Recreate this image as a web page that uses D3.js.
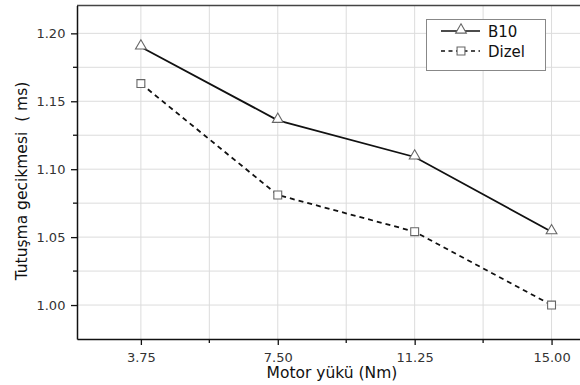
<!DOCTYPE html>
<html><head><meta charset="utf-8">
<script src="https://cdn.jsdelivr.net/npm/d3@7/dist/d3.min.js"></script>
<style>body{margin:0;background:#fff}svg{display:block}text{font-family:"DejaVu Sans",Arial,sans-serif}</style>
</head><body><svg id="c" width="580" height="385"></svg>
<script>
const loads = [3.75, 7.50, 11.25, 15.00];
const b10 = [1.190, 1.136, 1.109, 1.054];
const dizel = [1.163, 1.081, 1.054, 1.000];
const xTickLabels = ["3.75", "7.50", "11.25", "15.00"];
const yTicks = [1.00, 1.05, 1.10, 1.15, 1.20];
const seriesNames = ["B10", "Dizel"];

const svg = d3.select("#c");
const L = 77, T = 5.5, B = 339, R = 620;
const x = d3.scaleLinear().domain([2.0, 16.875]).range([L, R]);
const y = d3.scaleLinear().domain([0.975, 1.2205]).range([B, T]);

const xGridVals = [3.75, 5.625, 7.5, 9.375, 11.25, 13.125, 15.0];
const yGridVals = d3.range(0, 10).map(i => 1.0 + i * 0.025).filter(v => v <= 1.22);

const g = svg.append("g");
g.selectAll(".gx").data(xGridVals).join("line")
  .attr("x1", d => x(d)).attr("x2", d => x(d)).attr("y1", T).attr("y2", B)
  .attr("stroke", "#dcdcdc").attr("stroke-width", 1);
g.selectAll(".gy").data(yGridVals).join("line")
  .attr("x1", L).attr("x2", 580).attr("y1", d => y(d)).attr("y2", d => y(d))
  .attr("stroke", "#dcdcdc").attr("stroke-width", 1);

svg.append("line").attr("x1", L).attr("x2", 580).attr("y1", T).attr("y2", T)
  .attr("stroke", "#444").attr("stroke-width", 1.5);

const xAxis = d3.axisBottom(x).tickValues(loads).tickFormat((d, i) => xTickLabels[i]).tickSize(6).tickSizeOuter(0);
const xa = svg.append("g").attr("transform", `translate(0,${B})`).call(xAxis);
xa.select(".domain").attr("stroke", "#111").attr("stroke-width", 1.5);
xa.selectAll(".tick line").attr("stroke", "#111").attr("stroke-width", 1.3);
xa.selectAll("text").attr("font-size", 13).attr("fill", "#333").attr("font-family", "DejaVu Sans").attr("dy", "1.05em");
const xMinorVals = [5.625, 9.375, 13.125];
xa.selectAll(".mx").data(xMinorVals).join("line").attr("x1", d => x(d)).attr("x2", d => x(d))
  .attr("y1", 0).attr("y2", 4).attr("stroke", "#111").attr("stroke-width", 1.3);

const yAxis = d3.axisLeft(y).tickValues(yTicks).tickFormat(d3.format(".2f")).tickSize(6).tickSizeOuter(0);
const ya = svg.append("g").attr("transform", `translate(${L},0)`).call(yAxis);
ya.select(".domain").attr("stroke", "#111").attr("stroke-width", 1.5);
ya.selectAll(".tick line").attr("stroke", "#111").attr("stroke-width", 1.3);
ya.selectAll("text").attr("font-size", 13).attr("fill", "#333").attr("font-family", "DejaVu Sans").attr("dx", "-0.2em");
const yMinorVals = [1.025, 1.075, 1.125, 1.175];
ya.selectAll(".my").data(yMinorVals).join("line").attr("x1", 0).attr("x2", -4)
  .attr("y1", d => y(d)).attr("y2", d => y(d)).attr("stroke", "#111").attr("stroke-width", 1.3);

const line = d3.line().x((d, i) => x(loads[i])).y(d => y(d));
svg.append("path").datum(b10).attr("d", line).attr("fill", "none").attr("stroke", "#111").attr("stroke-width", 1.8);
svg.append("path").datum(dizel).attr("d", line).attr("fill", "none").attr("stroke", "#111").attr("stroke-width", 1.8).attr("stroke-dasharray", "5,4");

const tri = d3.symbol().type(d3.symbolTriangle).size(50);
const sq = d3.symbol().type(d3.symbolSquare).size(62);
svg.selectAll(".tri").data(b10).join("path").attr("d", tri)
  .attr("transform", (d, i) => `translate(${x(loads[i])},${y(d) - 1})`)
  .attr("fill", "#fff").attr("stroke", "#666").attr("stroke-width", 1.1);
svg.selectAll(".sq").data(dizel).join("path").attr("d", sq)
  .attr("transform", (d, i) => `translate(${x(loads[i])},${y(d)})`)
  .attr("fill", "#fff").attr("stroke", "#666").attr("stroke-width", 1.1);

const lg = svg.append("g");
lg.append("rect").attr("x", 426.5).attr("y", 19.5).attr("width", 119).attr("height", 51)
  .attr("fill", "#fff").attr("stroke", "#888").attr("stroke-width", 1);
[0, 1].forEach(i => {
  const yy = 31 + i * 20;
  const ln = lg.append("line").attr("x1", 441).attr("x2", 480).attr("y1", yy).attr("y2", yy)
    .attr("stroke", "#111").attr("stroke-width", 1.6);
  if (i === 1) ln.attr("stroke-dasharray", "4,3.5");
  lg.append("path").attr("d", i === 0 ? tri : sq).attr("transform", `translate(461,${yy - (i === 0 ? 1 : 0)})`)
    .attr("fill", "#fff").attr("stroke", "#666").attr("stroke-width", 1.1);
  lg.append("text").attr("x", 488).attr("y", yy + 5.5).attr("font-size", 15).attr("fill", "#111").text(seriesNames[i]);
});

svg.append("text").attr("x", 332).attr("y", 378).attr("text-anchor", "middle")
  .attr("font-size", 15.5).attr("fill", "#111").text("Motor yükü (Nm)");
svg.append("text").attr("transform", `translate(27,181) rotate(-90)`).attr("text-anchor", "middle")
  .attr("font-size", 15.5).attr("fill", "#111").attr("xml:space", "preserve").text("Tutuşma gecikmesi  ( ms)");
</script></body></html>
